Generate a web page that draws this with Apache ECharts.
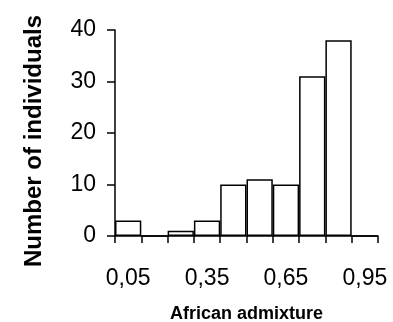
<!DOCTYPE html>
<html><head><meta charset="utf-8">
<script src="https://cdn.jsdelivr.net/npm/echarts@6/dist/echarts.min.js"></script>
<style>html,body{margin:0;padding:0;background:#fff}#c{width:393px;height:322px}</style>
</head><body><div id="c"></div>
<script>
var categories = ["0,05","0,15","0,25","0,35","0,45","0,55","0,65","0,75","0,85","0,95"];
var counts = [3, 0, 1, 3, 10, 11, 10, 31, 38, 0];
var yTicks = [0, 10, 20, 30, 40];
var xTitle = "African admixture";
var yTitle = "Number of individuals";

var chart = echarts.init(document.getElementById('c'));
chart.setOption({
  animation: false,
  backgroundColor: '#fff',
  grid: {left: 115, right: 15, top: 30, bottom: 86, containLabel: false, outerBoundsMode: 'none'},
  xAxis: {
    type: 'category', data: categories, boundaryGap: true,
    name: xTitle, nameLocation: 'middle', nameGap: 69,
    nameTextStyle: {fontFamily: 'Liberation Sans', fontWeight: 'bold', fontSize: 18, color: '#000'},
    axisLine: {lineStyle: {color: '#000', width: 1.5}},
    axisTick: {show: true, interval: 0, length: 7, lineStyle: {color: '#000', width: 1.5}},
    axisLabel: {interval: 2, margin: 31, fontFamily: 'Liberation Sans', fontSize: 23, color: '#000'},
    splitLine: {show: false}
  },
  yAxis: {
    type: 'value', min: yTicks[0], max: yTicks[yTicks.length-1], interval: 10,
    name: yTitle, nameLocation: 'middle', nameGap: 69,
    nameTextStyle: {fontFamily: 'Liberation Sans', fontWeight: 'bold', fontSize: 24, color: '#000', padding: [0, 16, 0, 0]},
    axisLine: {show: true, lineStyle: {color: '#000', width: 1.5}},
    axisTick: {show: true, length: 8, lineStyle: {color: '#000', width: 1.5}},
    axisLabel: {margin: 19, fontFamily: 'Liberation Sans', fontSize: 23, color: '#000'},
    splitLine: {show: false}
  },
  series: [{
    type: 'bar', data: counts, barWidth: '100%', barCategoryGap: 0,
    itemStyle: {color: '#fff', borderColor: '#000', borderWidth: 1.5}
  }]
});
</script></body></html>
